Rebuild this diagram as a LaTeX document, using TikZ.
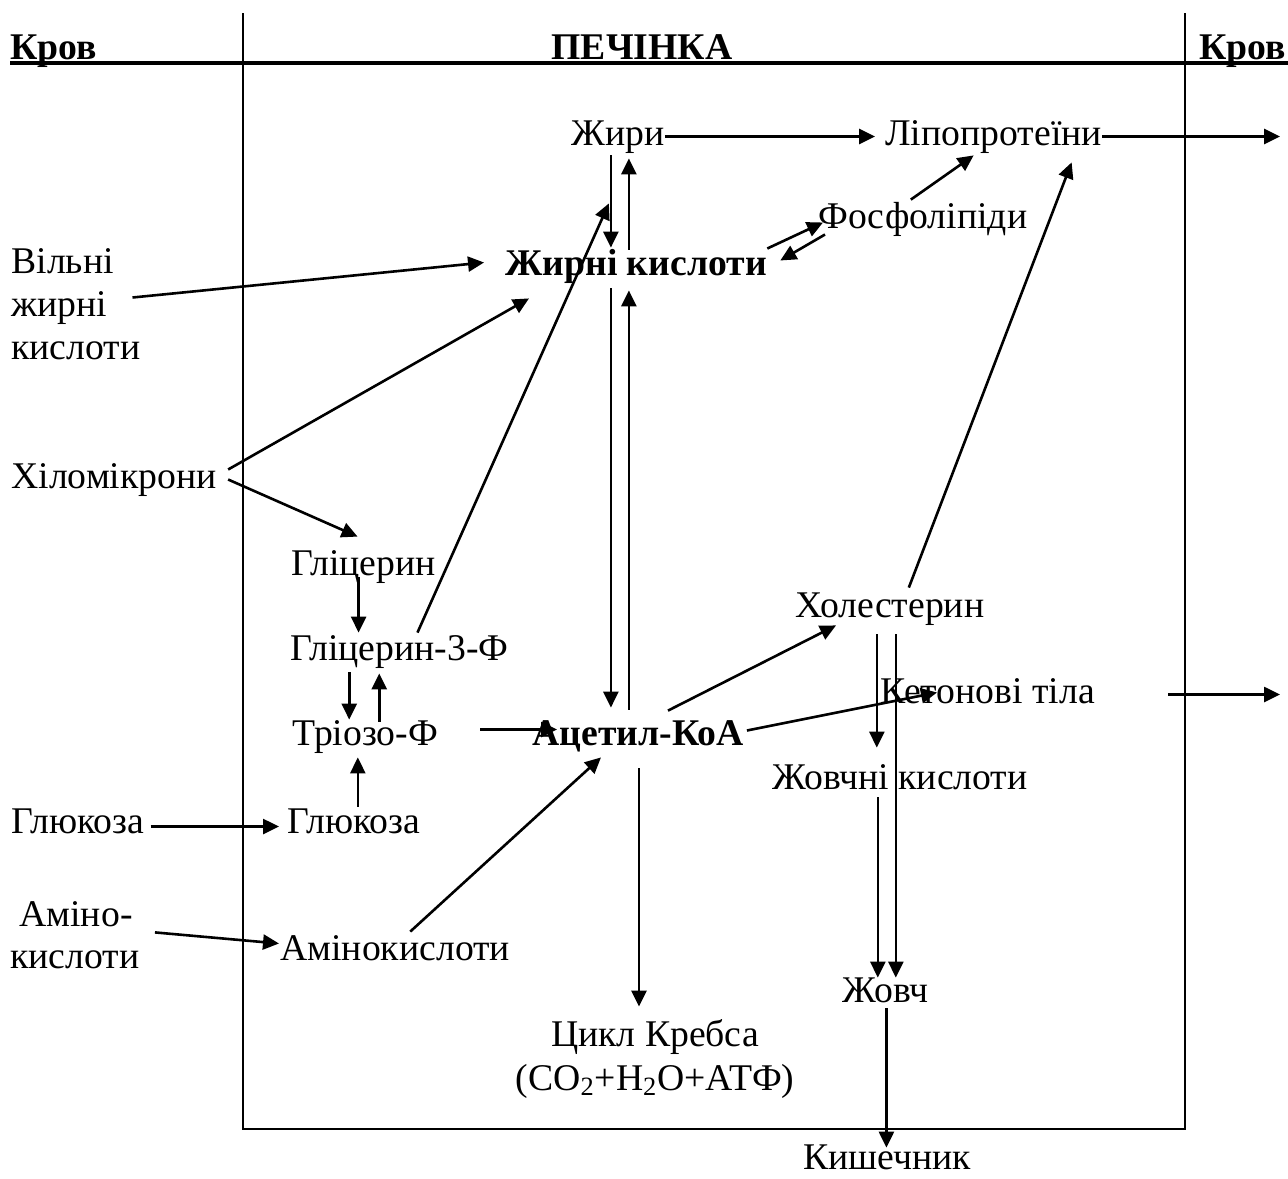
\documentclass[tikz,border=0pt]{standalone}
\usepackage{fontspec}
\setmainfont{Liberation Serif}
\usetikzlibrary{arrows.meta, calc}
\tikzstyle{txt} = [inner sep=0pt, anchor=base west, text height=12.5pt, text depth=4pt, font=\fontsize{18.85pt}{22pt}\selectfont]
\tikzstyle{txtc} = [txt, anchor=base]
\tikzstyle{txtb} = [txt, font=\fontsize{18.85pt}{22pt}\selectfont\bfseries]
\tikzstyle{arrow} = [line width=1.3pt, -{Triangle[length=8pt, width=7.5pt]}]
\tikzstyle{border} = [line width=0.85pt]

\begin{document}
\begin{tikzpicture}[x=0.5pt, y=-0.5pt]
\useasboundingbox (0,0) rectangle (1288,1178);
% frame
\draw [line width=1.8pt] (10,63) -- (1288,63);
\draw [border] (243,13) -- (243,1129) -- (1185,1129) -- (1185,13);

% header
\node (krovL) [txtb] at (10,59) {Кров};
\node (pechinka) [txtb, anchor=base] at (642,59) {ПЕЧІНКА};
\node (krovR) [txtb] at (1199,59) {Кров};

% nodes
\node (zhyry) [txt] at (571,145) {Жири};
\node (lipo) [txt] at (885,145) {Ліпопротеїни};
\node (fosfo) [txt] at (818,228) {Фосфоліпіди};
\node (zhk) [txtb] at (505,275) {Жирні кислоти};
\node (vilni1) [txt] at (11,273) {Вільні};
\node (vilni2) [txt] at (11,316) {жирні};
\node (vilni3) [txt] at (11,359) {кислоти};
\node (khilo) [txt] at (11,488) {Хіломікрони};
\node (glic) [txt] at (291,575) {Гліцерин};
\node (glic3) [txt] at (290,660) {Гліцерин-3-Ф};
\node (triozo) [txt] at (292,745) {Тріозо-Ф};
\node (acetyl) [txtb] at (532,745) {Ацетил-КоА};
\node (glukOut) [txt] at (11,833) {Глюкоза};
\node (glukIn) [txt] at (287,833) {Глюкоза};
\node (amino1) [txtc] at (76,926) {Аміно-};
\node (amino2) [txtc] at (75,968) {кислоти};
\node (aminoIn) [txt] at (280,960) {Амінокислоти};
\node (kholes) [txt] at (795,617) {Холестерин};
\node (keton) [txt] at (880,703) {Кетонові тіла};
\node (zhovchK) [txt] at (772,789) {Жовчні кислоти};
\node (zhovch) [txt] at (842,1002) {Жовч};
\node (krebs1) [txtc] at (655,1046) {Цикл Кребса};
\node (krebs2) [txtc] at (655,1090) {(CO\textsubscript{2}+H\textsubscript{2}O+АТФ)};
\node (kyshech) [txtc, text depth=0pt] at (887,1169) {Кишечник};
\coordinate (outLipo) at (1280,137);
\coordinate (outKeton) at (1280,694);

% arrows
\draw [arrow] (zhyry.east) -- ($(lipo.west)+(-10,0)$);
\draw [arrow] (lipo.east) -- (lipo.east -| outLipo);
\draw [arrow] ($(zhyry.south)+(-7,2)$) -- ($(zhyry.south |- zhk.north)+(-7,-2)$);
\draw [arrow] ($(zhyry.south |- zhk.north)+(11,0)$) -- ($(zhyry.south)+(11,5)$);
\draw [arrow] ($(zhyry.south |- zhk.south)+(-7,5)$) -- ($(zhyry.south |- acetyl.north)+(-7,-12)$);
\draw [arrow] ($(zhyry.south |- acetyl.north)+(11,-10)$) -- ($(zhyry.south |- zhk.south)+(11,7)$);
\draw [arrow] ($(zhk.east)+(0,-18)$) -- ($(fosfo.west)+(5,3)$);
\draw [arrow] ($(fosfo.west)+(7,15)$) -- ($(zhk.east)+(13,-6)$);
\draw [arrow] ($(fosfo.north)+(-12,-3)$) -- ($(lipo.south)+(-20,2)$);
\draw [arrow] ($(kholes.north)+(19,-4)$) -- ($(lipo.south)+(78,9)$);
\draw [arrow] ($(vilni2.east)+(25,-10)$) -- ($(zhk.west)+(-21,-4)$);
\draw [arrow] ($(khilo.east)+(11,-10)$) -- ($(zhk.south west)+(24,15)$);
\draw [arrow] ($(khilo.east)+(11,0)$) -- ($(glic.north)+(-6,-13)$);
\draw [arrow] ($(glic.south)+(-5,-6)$) -- ($(glic.south |- glic3.north)+(-5,-2)$);
\draw [arrow] ($(triozo.north |- glic3.south)+(-16,4)$) -- ($(triozo.north)+(-16,0)$);
\draw [arrow] ($(triozo.north)+(14,2)$) -- ($(triozo.north |- glic3.south)+(14,5)$);
\draw [arrow] ($(glukIn.north)+(4,-1)$) -- ($(glukIn.north |- triozo.south)+(4,4)$);
\draw [arrow] ($(glic3.north)+(18,-2)$) -- ($(zhyry.south)+(-9,50)$);
\draw [arrow] ($(triozo.east)+(42,-7)$) -- ($(acetyl.west)+(25,-7)$);
\draw [arrow] ($(aminoIn.north)+(15,-3)$) -- ($(acetyl.south)+(-37,4)$);
\draw [arrow] ($(acetyl.south)+(1,15)$) -- ($(acetyl.south |- krebs1.north)+(1,-14)$);
\draw [arrow] ($(acetyl.north)+(30,-9)$) -- ($(kholes.south west)+(41,0)$);
\draw [arrow] ($(acetyl.east)+(3,-6)$) -- ($(keton.west)+(57,-2)$);
\draw [arrow] ($(keton.east)+(73,0)$) -- (keton.east -| outKeton);
\draw [arrow] ($(kholes.south)+(-13,9)$) -- ($(kholes.south |- zhovchK.north)+(-13,-16)$);
\draw [arrow] ($(kholes.south)+(6,9)$) -- ($(kholes.south |- zhovch.north)+(6,1)$);
\draw [arrow] ($(kholes.south |- zhovchK.south)+(-12,0)$) -- ($(kholes.south |- zhovch.north)+(-12,1)$);
\draw [arrow] ($(zhovch.south)+(1,-2)$) -- ($(zhovch.south |- kyshech.north)+(1,4)$);
\draw [arrow] ($(glukOut.east)+(6,2)$) -- ($(glukIn.west)+(-8,2)$);
\draw [arrow] ($(amino1.south east)+(22,-2)$) -- ($(aminoIn.west)+(-1,-8)$);
\end{tikzpicture}
\end{document}
